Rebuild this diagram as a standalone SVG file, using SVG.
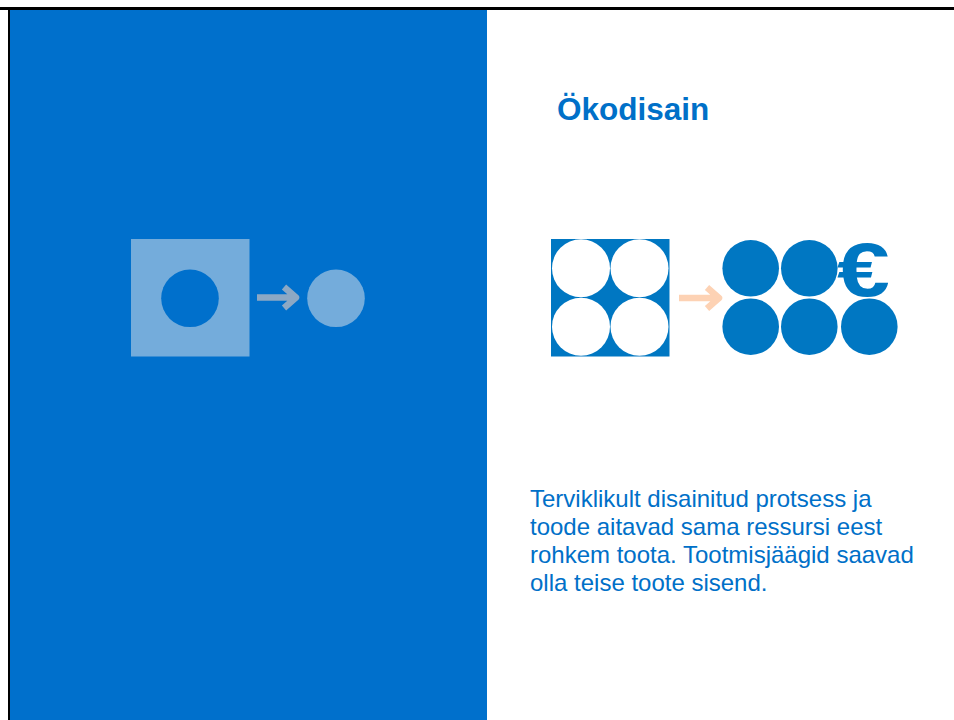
<svg xmlns="http://www.w3.org/2000/svg" width="954" height="720" viewBox="0 0 954 720">
<style>
.t{font-family:"Liberation Sans",Arial,sans-serif;fill:#0070C8}
.arr{fill:none;stroke-width:6.5;stroke-linejoin:round}
</style>
<rect x="0" y="0" width="954" height="720" fill="#ffffff"/>
<rect id="leftPanel" x="10" y="10" width="477" height="710" fill="#0070CC"/>
<rect x="0" y="7" width="954" height="3" fill="#000"/>
<rect x="8" y="7" width="2" height="713" fill="#000"/>
<g id="leftIcon">
<rect x="131" y="239" width="118.5" height="117.5" fill="#74ACDB"/>
<circle cx="190" cy="298.3" r="28.8" fill="#0070CC"/>
<circle cx="336" cy="298.3" r="28.8" fill="#74ACDB"/>
</g>
<g id="connectors">
<path class="arr" stroke="#8CA8C4" d="M257 297.5 H296 M284 287 L296 297.5 L284 308"/>
<path class="arr" stroke="#FDD2B4" d="M679 298 H719 M707 287.5 L719 298 L707 308.5"/>
</g>
<g id="title"><text class="t" x="557" y="120" font-size="31.5" font-weight="bold">Ökodisain</text></g>
<g id="inputIcon">
<rect x="551" y="239" width="118.5" height="117.5" fill="#0077C2"/>
<circle cx="581" cy="268.3" r="29" fill="#fff"/>
<circle cx="639.5" cy="268.3" r="29" fill="#fff"/>
<circle cx="581" cy="326.7" r="29" fill="#fff"/>
<circle cx="639.5" cy="326.7" r="29" fill="#fff"/>
</g>
<g id="outputIcon" fill="#0077C2">
<circle cx="750.7" cy="268.3" r="28.3"/>
<circle cx="809.3" cy="268.3" r="28.3"/>
<circle cx="750.7" cy="326.7" r="28.3"/>
<circle cx="809.3" cy="326.7" r="28.3"/>
<circle cx="869.3" cy="326.7" r="28.3"/>
<text transform="translate(837 296) scale(1.25 1)" x="0" y="0" font-family="Liberation Sans,Arial,sans-serif" font-weight="bold" font-size="76" fill="#0077C2">€</text>
</g>
<g id="body">
<text class="t" font-size="24" x="530" y="507">Terviklikult disainitud protsess ja</text>
<text class="t" font-size="24" x="530" y="535">toode aitavad sama ressursi eest</text>
<text class="t" font-size="24" x="530" y="563">rohkem toota. Tootmisjäägid saavad</text>
<text class="t" font-size="24" x="530" y="591">olla teise toote sisend.</text>
</g>
</svg>
